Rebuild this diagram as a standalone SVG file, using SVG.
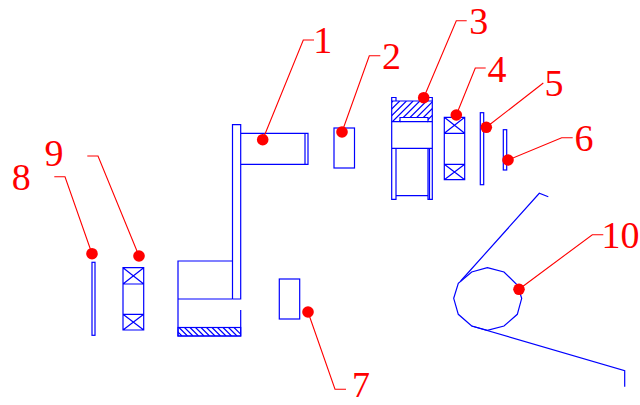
<svg xmlns="http://www.w3.org/2000/svg" width="640" height="405" viewBox="0 0 640 405">
<style>
.b{fill:none;stroke:#0000ff;stroke-width:1.2}
.l{fill:none;stroke:#ff0000;stroke-width:1.1}
.d{fill:#ff0000;stroke:none}
.t{font-family:"Liberation Serif",serif;font-size:38px;fill:#ff0000;text-anchor:middle}
</style>
<defs>
<clipPath id="c1"><path d="M391.7 101H432.3V121.7H428V117.5H400V121.7H391.7Z"/></clipPath>
<clipPath id="c2"><rect x="178" y="327.5" width="62.7" height="8.5"/></clipPath>
</defs>
<rect width="640" height="405" fill="#ffffff"/>
<g id="part-1">
<path class="b" d="M232.5 299V124.7H240.7V299H232.5M240.7 133.3H308V164.3H240.7M305 133.3V164.3"/>
<path class="b" d="M232.5 261H178V336H240.7V310M178 299H232.5"/>
<path class="b" clip-path="url(#c2)" d="M173.5 327.5l8.5 8.5M179 327.5l8.5 8.5M184.5 327.5l8.5 8.5M190 327.5l8.5 8.5M195.5 327.5l8.5 8.5M201 327.5l8.5 8.5M206.5 327.5l8.5 8.5M212 327.5l8.5 8.5M217.5 327.5l8.5 8.5M223 327.5l8.5 8.5M228.5 327.5l8.5 8.5M234 327.5l8.5 8.5"/>
<rect class="b" x="178" y="327.5" width="62.7" height="8.5"/>
</g>
<g id="part-2"><rect class="b" x="334" y="128" width="20.5" height="40"/></g>
<g id="part-3">
<path class="b" clip-path="url(#c1)" d="M372 122l21-21M378.7 122l21-21M385.4 122l21-21M392.1 122l21-21M398.8 122l21-21M405.5 122l21-21M412.2 122l21-21M418.9 122l21-21M425.6 122l21-21"/>
<path class="b" d="M391.7 101H432.3V121.7H428V117.5H400V121.7H391.7Z"/>
<path class="b" d="M391.7 101V97.5H396V101M428 101V97.5H432.3V101M391.7 121.7V199.3H396V148.4M428 148.4V199.3H432.3V121.7M400 121.7H428M391.7 148.4H432.3M396 195.7H428M429.5 148.4V199.3"/>
</g>
<g id="part-4">
<path class="b" d="M444.3 117.3H464.7V179.7H444.3ZM444.3 133.3H464.7M444.3 164.3H464.7M444.3 117.3L464.7 133.3M464.7 117.3L444.3 133.3M444.3 164.3L464.7 179.7M464.7 164.3L444.3 179.7"/>
</g>
<g id="part-5"><rect class="b" x="480.3" y="112.7" width="3.4" height="72"/></g>
<g id="part-6"><rect class="b" x="503.3" y="129.7" width="3.4" height="40.3"/></g>
<g id="part-7"><rect class="b" x="279.3" y="279" width="20.4" height="40"/></g>
<g id="part-8"><rect class="b" x="92" y="262.3" width="3" height="73"/></g>
<g id="part-9">
<path class="b" d="M123 267.7H143.7V330H123ZM123 284H143.7M123 314.3H143.7M123 267.7L143.7 284M143.7 267.7L123 284M123 314.3L143.7 330M143.7 314.3L123 330"/>
</g>
<g id="part-10">
<path class="b" d="M487.3 267.7L504 272L517.3 285L521.7 298.3L517.3 314.3L504 326L487.3 330.3L471.7 326L458.3 314.3L453.7 298.3L458.3 283.3L471.7 272Z"/>
<path class="b" d="M460.7 281L539.3 193.3L548.3 196.7M471.7 326L624.7 370.7V386.7"/>
</g>
<g id="connectors">
<path class="l" d="M262.7 139.7L303.3 40H314"/>
<path class="l" d="M342 132L369.3 55.7H380.3"/>
<path class="l" d="M423.7 97.7L456.3 20.7H466.7"/>
<path class="l" d="M456.3 115L475.3 68H485.7"/>
<path class="l" d="M486.3 127.3L543.3 83"/>
<path class="l" d="M508 160L561.7 137.7H572.7"/>
<path class="l" d="M308 312L335 389.3H346"/>
<path class="l" d="M92 253.7L65 176.7H54.3"/>
<path class="l" d="M139 256L98 156H87.3"/>
<path class="l" d="M519 289.3L592.3 234.7H603.3"/>
<circle class="d" cx="262.7" cy="139.7" r="5.8"/>
<circle class="d" cx="342" cy="132" r="5.8"/>
<circle class="d" cx="423.7" cy="97.7" r="5.8"/>
<circle class="d" cx="456.3" cy="115" r="5.8"/>
<circle class="d" cx="486.3" cy="127.3" r="5.8"/>
<circle class="d" cx="508" cy="160" r="5.8"/>
<circle class="d" cx="308" cy="312" r="5.8"/>
<circle class="d" cx="92" cy="253.7" r="5.8"/>
<circle class="d" cx="139" cy="256" r="5.8"/>
<circle class="d" cx="519" cy="289.3" r="5.8"/>
</g>
<g id="labels">
<text class="t" x="322.7" y="53">1</text>
<text class="t" x="391.5" y="69">2</text>
<text class="t" x="478.7" y="34">3</text>
<text class="t" x="497" y="81.7">4</text>
<text class="t" x="554" y="96">5</text>
<text class="t" x="584" y="150.7">6</text>
<text class="t" x="361" y="396.5" style="font-size:36px">7</text>
<text class="t" x="620.5" y="248">10</text>
<text class="t" x="21.3" y="190">8</text>
<text class="t" x="54" y="165.7">9</text>
</g>
</svg>
